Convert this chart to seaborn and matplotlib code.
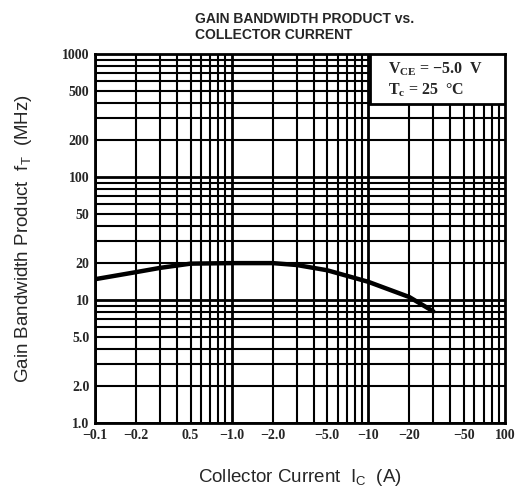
import matplotlib.pyplot as plt
import numpy as np
import pandas as pd
import seaborn as sns

# curve (Ic in A, fT in MHz)
ic = [0.1, 0.2, 0.3, 0.5, 1.0, 2.0, 3.0, 5.0, 10, 20, 30]
ft = [14.8, 16.9, 18.3, 19.8, 20.0, 20.0, 19.3, 17.5, 14.1, 10.6, 8.1]

x_ticks = [0.1, 0.2, 0.5, 1, 2, 5, 10, 20, 50, 100]
x_labels = ['\u22120.1', '\u22120.2', '0.5', '\u22121.0', '\u22122.0', '\u22125.0',
            '\u221210', '\u221220', '\u221250', '100']
y_ticks = [1, 2, 5, 10, 20, 50, 100, 200, 500, 1000]
y_labels = ['1.0', '2.0', '5.0', '10', '20', '50', '100', '200', '500', '1000']

df = pd.DataFrame({'Ic': ic, 'fT': ft})

sns.set_style('white')
plt.rcParams['font.family'] = ['Liberation Sans', 'DejaVu Sans']

fig = plt.figure(figsize=(5.28, 4.87), dpi=100)
ax = fig.add_axes([0.18, 0.131, 0.776, 0.758])

ax.set_xscale('log')
ax.set_yscale('log')
ax.set_xlim(0.1, 100)
ax.set_ylim(1, 1000)

# log-paper grid
for dec in [0.1, 1, 10]:
    for k in range(1, 10):
        ax.axvline(dec * k, color='black', lw=2.0 if k == 1 else 1.5, zorder=1)
for dec in [1, 10, 100]:
    for k in range(1, 10):
        ax.axhline(dec * k, color='black', lw=2.0 if k == 1 else 1.5, zorder=1)

sns.lineplot(data=df, x='Ic', y='fT', ax=ax, color='black', lw=3.2, zorder=3)

ax.set_xticks(x_ticks)
ax.set_xticklabels(x_labels, fontfamily='Liberation Serif', fontweight='bold', fontsize=10)
ax.set_yticks(y_ticks)
ax.set_yticklabels(y_labels, fontfamily='Liberation Serif', fontweight='bold', fontsize=10)
ax.minorticks_off()
ax.tick_params(length=0, pad=4)

for s in ax.spines.values():
    s.set_visible(True)
    s.set_color('black')
    s.set_linewidth(2)

ax.set_xlabel('Collector Current  I$_\\mathregular{C}$  (A)', fontsize=13.5, labelpad=18)
ax.set_ylabel('Gain Bandwidth Product  f$_\\mathregular{T}$  (MHz)', fontsize=13.5, labelpad=20)

# conditions box
ax.add_patch(plt.Rectangle((0.67, 0.865), 0.33, 0.135, transform=ax.transAxes,
                           facecolor='white', edgecolor='black', lw=2, zorder=5))
ax.text(0.715, 0.982, 'V$_\\mathregular{CE}$ = \u22125.0  V', transform=ax.transAxes,
        ha='left', va='top', fontsize=11.5, fontfamily='Liberation Serif',
        fontweight='bold', zorder=6)
ax.text(0.715, 0.927, 'T$_\\mathregular{c}$ = 25  \u00b0C', transform=ax.transAxes,
        ha='left', va='top', fontsize=11.5, fontfamily='Liberation Serif',
        fontweight='bold', zorder=6)

fig.text(0.37, 0.975, 'GAIN BANDWIDTH PRODUCT vs.\nCOLLECTOR CURRENT', ha='left', va='top',
         fontsize=10, fontweight='bold', linespacing=1.15)

fig.savefig('out.png', dpi=100)
